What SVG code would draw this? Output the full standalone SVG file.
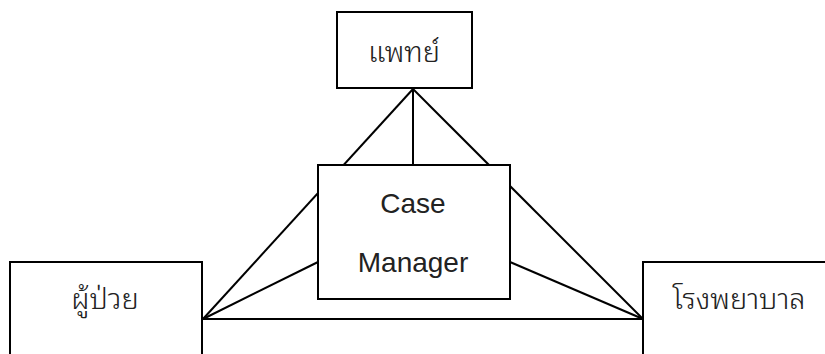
<svg xmlns="http://www.w3.org/2000/svg" width="825" height="354" viewBox="0 0 825 354">
  <style>
    .box { fill: #ffffff; stroke: #000000; stroke-width: 2; }
    .link { stroke: #000000; stroke-width: 2; fill: none; }
    .th { font-family: "Noto Sans Thai Looped", "Noto Sans Thai", "Noto Sans", "DejaVu Sans", sans-serif; font-size: 29px; font-weight: 300; fill: #222222; }
    .en { font-family: "Liberation Sans", Arial, sans-serif; font-size: 28px; fill: #222222; }
  </style>
  <rect width="825" height="354" fill="#ffffff"/>
  <g id="connectors">
    <line class="link" x1="203" y1="319" x2="413" y2="89"/>
    <line class="link" x1="643" y1="319" x2="413" y2="89"/>
    <line class="link" x1="413" y1="89" x2="413" y2="165"/>
    <line class="link" x1="203" y1="319" x2="643" y2="319"/>
    <line class="link" x1="203" y1="319" x2="318" y2="262"/>
    <line class="link" x1="643" y1="319" x2="510" y2="262"/>
  </g>
  <g id="doctor">
    <rect class="box" x="337" y="12" width="135" height="76"/>
    <text class="th" x="404" y="62" text-anchor="middle">แพทย์</text>
  </g>
  <g id="case-manager">
    <rect class="box" x="318" y="165" width="192" height="134"/>
    <text class="en" x="413" y="213" text-anchor="middle">Case</text>
    <text class="en" x="413" y="272" text-anchor="middle">Manager</text>
  </g>
  <g id="patient">
    <rect class="box" x="10" y="262" width="192" height="100"/>
    <text class="th" x="105" y="309" text-anchor="middle">ผู้ป่วย</text>
  </g>
  <g id="hospital">
    <rect class="box" x="643" y="262" width="200" height="100"/>
    <text class="th" x="739" y="309" text-anchor="middle">โรงพยาบาล</text>
  </g>
</svg>
